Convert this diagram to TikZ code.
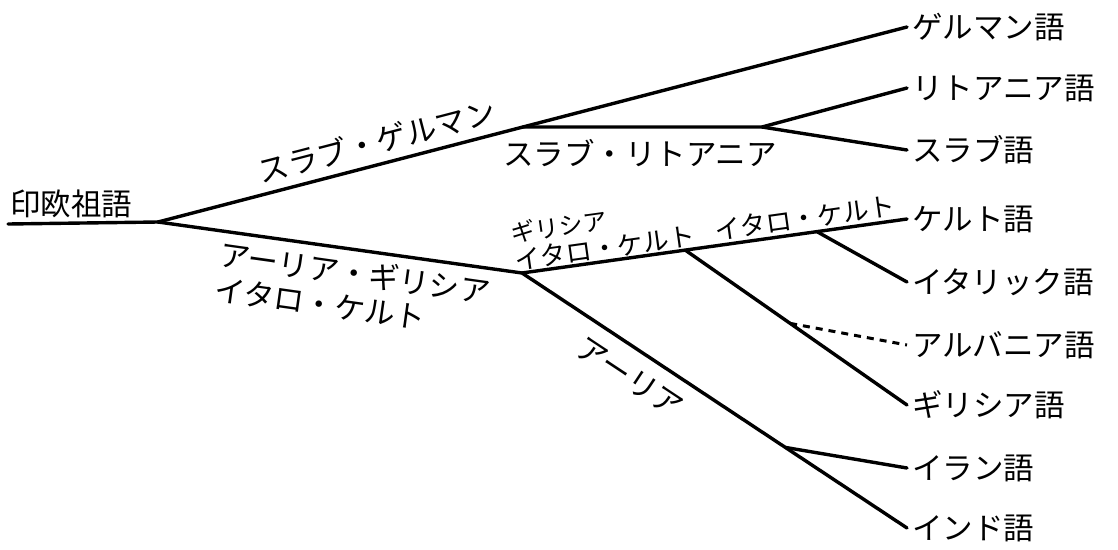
\documentclass[tikz,border=0pt]{standalone}
\usepackage{fontspec}
\usetikzlibrary{calc}
\newfontfamily\jp{Noto Sans CJK JP}
\begin{document}
\begin{tikzpicture}[x=1pt,y=-1pt,
  br/.style={line width=3.4pt, line cap=round, line join=round},
  dsh/.style={line width=3pt, dash pattern=on 7pt off 6pt},
  leaf/.style={anchor=west, inner xsep=5pt, inner ysep=0pt, font=\jp\fontsize{30.5}{34}\selectfont},
  lbl/.style={inner sep=0pt, font=\jp\fontsize{30.5}{35}\selectfont},
  sml/.style={inner sep=0pt, font=\jp\fontsize{26}{28}\selectfont}]
\useasboundingbox (0,0) rectangle (1118,549);
% leaves
\node[leaf] (ger) at (907,27)  {ゲルマン語};
\node[leaf] (lit) at (907,88)  {リトアニア語};
\node[leaf] (sla) at (907,150) {スラブ語};
\node[leaf] (cel) at (907,219) {ケルト語};
\node[leaf] (ita) at (907,282) {イタリック語};
\node[leaf] (alb) at (907,345) {アルバニア語};
\node[leaf] (gre) at (907,405) {ギリシア語};
\node[leaf] (ira) at (907,468) {イラン語};
\node[leaf] (ind) at (907,528) {インド語};
% root
\node[lbl, anchor=west] (root) at (10,204) {印欧祖語};
\coordinate (r0) at (8,224);
\coordinate (A) at (158,222);
\coordinate (B) at ($(A)!0.487!(ger.west)$);
\coordinate (C) at (522,273);
\coordinate (D) at (762,127);
\coordinate (E) at ($(C)!0.424!(cel.west)$);
\coordinate (F) at ($(C)!0.766!(cel.west)$);
\coordinate (G) at ($(E)!0.473!(gre.west)$);
\coordinate (H) at ($(C)!0.684!(ind.west)$);
% branches
\draw[br] (r0) -- (A);
\draw[br] (A) -- (ger.west);
\draw[br] (B) -- (D) -- (lit.west);
\draw[br] (D) -- (sla.west);
\draw[br] (A) -- (C) -- (ind.west);
\draw[br] (C) -- (cel.west);
\draw[br] (E) -- (gre.west);
\draw[br] (F) -- (ita.west);
\draw[br] (H) -- (ira.west);
\draw[dsh] (G) -- (alb.west);
% branch labels
\path (A) -- (ger.west) node[lbl, pos=0.3, sloped, anchor=south, inner ysep=9pt] (lsg) {スラブ・ゲルマン};
\node[lbl] (lsl) at (640,153) {スラブ・リトアニア};
\path (A) -- (C) node[lbl, pos=0.55, sloped, anchor=north, align=left, inner ysep=9pt] (lagi) {アーリア・ギリシア\\イタロ・ケルト};
\path (C) -- (cel.west) node[sml, pos=0, sloped, anchor=south west, align=left, inner sep=2pt, xshift=-7pt] (lgi) {{\fontsize{24}{26}\selectfont ギリシア}\\イタロ・ケルト};
\path (C) -- (cel.west) node[sml, pos=0.74, sloped, anchor=south, inner ysep=4pt] (lic) {イタロ・ケルト};
\path (C) -- (ind.west) node[lbl, pos=0.32, sloped, anchor=north, inner ysep=15pt] (lar) {アーリア};
\end{tikzpicture}
\end{document}
